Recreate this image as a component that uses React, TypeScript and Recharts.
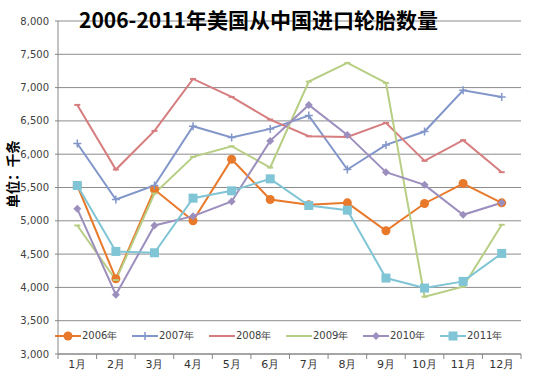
import React from "react";
import { LineChart, Line, XAxis, YAxis, CartesianGrid, Legend } from "recharts";

const months = ["1月", "2月", "3月", "4月", "5月", "6月", "7月", "8月", "9月", "10月", "11月", "12月"];

const y2006 = [5530, 4130, 5470, 5000, 5925, 5320, 5240, 5270, 4850, 5260, 5560, 5270];
const y2007 = [6160, 5320, 5530, 6420, 6250, 6380, 6580, 5770, 6140, 6340, 6960, 6860];
const y2008 = [6740, 5770, 6350, 7130, 6860, 6520, 6270, 6260, 6470, 5900, 6210, 5730];
const y2009 = [4930, 4110, 5410, 5960, 6120, 5800, 7090, 7370, 7070, 3860, 4010, 4940];
const y2010 = [5180, 3890, 4930, 5070, 5290, 6200, 6740, 6290, 5730, 5540, 5090, 5270];
const y2011 = [5530, 4540, 4520, 5340, 5450, 5630, 5230, 5160, 4140, 3990, 4090, 4510];

const yTicks = [3000, 3500, 4000, 4500, 5000, 5500, 6000, 6500, 7000, 7500, 8000];

const series = [
  { key: "y2006", name: "2006年", color: "#E8792B", marker: "circle" },
  { key: "y2007", name: "2007年", color: "#8296CA", marker: "plus" },
  { key: "y2008", name: "2008年", color: "#D67D7F", marker: "dash" },
  { key: "y2009", name: "2009年", color: "#B7CE84", marker: "dash" },
  { key: "y2010", name: "2010年", color: "#9C8FBE", marker: "diamond" },
  { key: "y2011", name: "2011年", color: "#80C5D5", marker: "square" },
];

const data = months.map((m, i) => ({
  month: m,
  y2006: y2006[i],
  y2007: y2007[i],
  y2008: y2008[i],
  y2009: y2009[i],
  y2010: y2010[i],
  y2011: y2011[i],
}));

function Marker({ cx, cy, type, color }: any) {
  if (cx == null || cy == null) return null;
  if (type === "circle") return <circle cx={cx} cy={cy} r={4.5} fill={color} />;
  if (type === "square") return <rect x={cx - 4.5} y={cy - 4.5} width={9} height={9} fill={color} />;
  if (type === "diamond")
    return <path d={`M${cx},${cy - 4}L${cx + 4},${cy}L${cx},${cy + 4}L${cx - 4},${cy}Z`} fill={color} />;
  if (type === "plus")
    return (
      <path d={`M${cx - 4},${cy}H${cx + 4}M${cx},${cy - 4}V${cy + 4}`} stroke={color} strokeWidth={1.5} fill="none" />
    );
  if (type === "dash")
    return <path d={`M${cx - 3},${cy}H${cx + 3}`} stroke={color} strokeWidth={2} fill="none" />;
  return null;
}

function LegendContent() {
  return (
    <div style={{ display: "flex", fontFamily: "DejaVu Sans", fontSize: 10, color: "#404040" }}>
      {series.map((s) => (
        <div key={s.key} style={{ display: "flex", alignItems: "center", width: 77 }}>
          <svg width={26} height={12}>
            <line x1={0} y1={6} x2={26} y2={6} stroke={s.color} strokeWidth={2} />
            <Marker cx={13} cy={6} type={s.marker === "dash" ? "none" : s.marker} color={s.color} />
          </svg>
          <span style={{ marginLeft: 1 }}>{s.name}</span>
        </div>
      ))}
    </div>
  );
}

function XTick({ x, y, payload }: any) {
  const half = 463 / 24;
  return (
    <g>
      <line x1={x - half} y1={y - 2} x2={x - half} y2={y + 3} stroke="#868686" />
      {payload.index === 11 && <line x1={x + half} y1={y - 2} x2={x + half} y2={y + 3} stroke="#868686" />}
      <text x={x} y={y + 12} textAnchor="middle" fontSize={11} fontFamily="DejaVu Sans" fill="#333">
        {payload.value}
      </text>
    </g>
  );
}

export default function App() {
  return (
    <div style={{ position: "absolute", left: 0, top: 0, width: 550, height: 377, background: "#fff" }}>
      <LineChart width={550} height={377} data={data} margin={{ top: 7, right: 29, left: 0, bottom: 0 }}>
        <CartesianGrid vertical={false} stroke="#8C8C8C" />
        <XAxis
          dataKey="month"
          scale="band"
          height={23}
          axisLine={{ stroke: "#868686" }}
          tickLine={false}
          tickSize={0}
          interval={0}
          tick={<XTick />}
        />
        <YAxis
          width={58}
          domain={[3000, 8000]}
          ticks={yTicks}
          interval={0}
          axisLine={{ stroke: "#868686" }}
          tickLine={{ stroke: "#868686" }}
          tickSize={3}
          tickMargin={6}
          tickFormatter={(v: number) => v.toLocaleString("en-US")}
          tick={{ fontSize: 10, fontFamily: "DejaVu Sans", fill: "#404040" }}
          label={{
            content: () => (
              <text
                transform="translate(18,174) rotate(-90)"
                textAnchor="middle"
                fontSize={13.5}
                fontWeight="bold"
                fontFamily="Noto Sans CJK SC"
                fill="#000"
              >
                单位：千条
              </text>
            ),
          }}
        />
        <Legend
          verticalAlign="top"
          content={<LegendContent />}
          wrapperStyle={{ position: "absolute", left: 55, top: 329, width: 480 }}
        />
        {series.map((s) => (
          <Line
            key={s.key}
            dataKey={s.key}
            name={s.name}
            stroke={s.color}
            strokeWidth={2}
            isAnimationActive={false}
            dot={(p: any) => <Marker key={p.index} cx={p.cx} cy={p.cy} type={s.marker} color={s.color} />}
            activeDot={false}
          />
        ))}
      </LineChart>
      <div
        style={{
          position: "absolute",
          left: 0,
          top: 4,
          width: 517,
          textAlign: "center",
          fontFamily: "Noto Sans CJK SC",
          fontWeight: "bold",
          fontSize: 21,
          lineHeight: "30px",
          color: "#000",
        }}
      >
        2006-2011年美国从中国进口轮胎数量
      </div>
    </div>
  );
}
